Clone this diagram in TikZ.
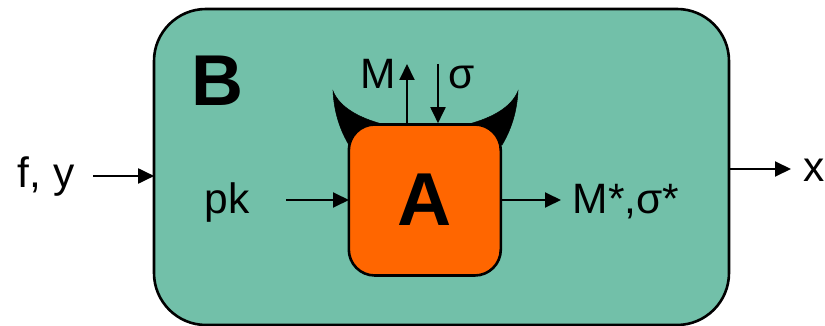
\documentclass[tikz,border=0pt]{standalone}
\usepackage{fontspec}
\setmainfont{Liberation Sans}
\usetikzlibrary{arrows.meta}
\definecolor{boxgreen}{RGB}{114,192,169}
\definecolor{boxorange}{RGB}{255,102,0}
\tikzset{
  conn/.style={line width=1.9pt,-{Triangle[length=16pt,width=15pt]}},
  lab/.style={inner sep=0pt,font=\fontsize{42.5}{42.5}\selectfont,anchor=base},
  outerbox/.style={draw=black,line width=2.6pt,fill=boxgreen,rounded corners=52pt,minimum width=575pt,minimum height=316pt,inner sep=0pt},
  innerbox/.style={draw=black,line width=2.6pt,fill=boxorange,rounded corners=26pt,minimum width=152pt,minimum height=151pt,inner sep=0pt,font=\bfseries\fontsize{75}{75}\selectfont},
  horn/.style={fill=black,draw=black,line width=0.5pt}
}
\begin{document}
\begin{tikzpicture}[x=1pt,y=-1pt]
\useasboundingbox (0,0) rectangle (825,326);
\node[outerbox] (B) at (441.5,167) {};
\fill[horn] (333,91) .. controls (340,108) and (360,118) .. (382,124) -- (360,135) -- (349,145) .. controls (340,130) and (334,112) .. (333,91) -- cycle;
\fill[horn] (518,91) .. controls (511,108) and (491,118) .. (469,124) -- (491,135) -- (502,145) .. controls (511,130) and (517,112) .. (518,91) -- cycle;
\node[innerbox] (A) at (424.8,200) {\raisebox{-4pt}{A}};
\node[inner sep=0pt,anchor=base,font=\bfseries\fontsize{72}{72}\selectfont] (Blab) at (217,106) {B};
\node[lab] (fy) at (46,188) {f, y};
\node[lab] (pk) at (227,214) {pk};
\node[lab] (M) at (378,89) {M};
\node[lab] (sig) at (462,89) {σ};
\node[lab] (Ms) at (626,214) {M*,σ*};
\node[lab] (xl) at (814,182) {x};
\coordinate (fyin) at (93,176);
\coordinate (pkin) at (286,200);
\coordinate (msout) at (561,200);
\coordinate (xout) at (791,169);
\coordinate (mtop) at (407,64);
\coordinate (stop) at (438,64);
\draw[conn,shorten >=-1.5pt] (fyin) -- (fyin -| B.west);
\draw[conn] (xout -| B.east) -- (xout);
\draw[conn,shorten >=-1.5pt] (pkin) -- (A.west);
\draw[conn] (A.east) -- (msout);
\draw[conn] (mtop |- A.north) -- (mtop);
\draw[conn] (stop) -- (stop |- A.north);
\end{tikzpicture}
\end{document}
